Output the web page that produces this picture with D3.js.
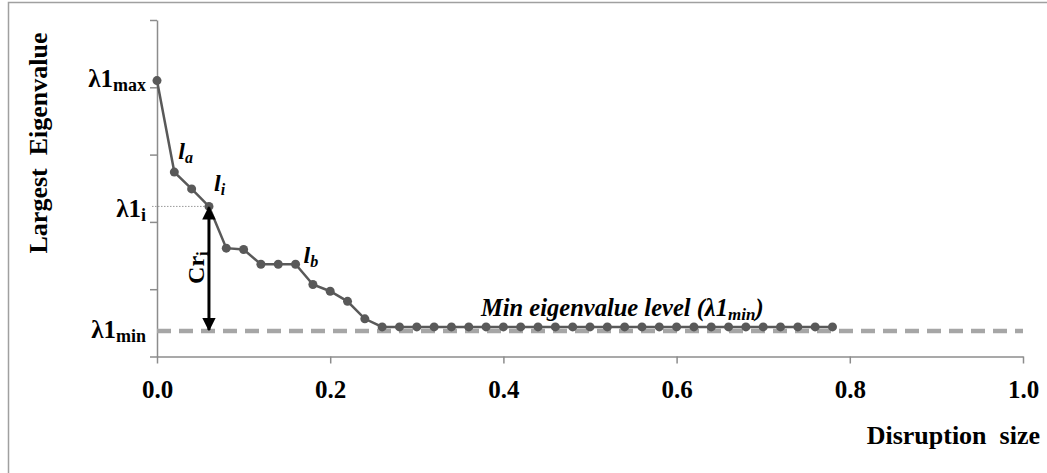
<!DOCTYPE html>
<html><head><meta charset="utf-8">
<script src="https://cdn.jsdelivr.net/npm/d3@7"></script>
<style>body{margin:0;background:#fff;}svg{display:block;}</style>
</head><body>
<svg id="chart" width="1047" height="473"></svg>
<script>
const disruption = [0.00,0.02,0.04,0.06,0.08,0.10,0.12,0.14,0.16,0.18,0.20,0.22,0.24,0.26,0.28,0.30,0.32,0.34,0.36,0.38,0.40,0.42,0.44,0.46,0.48,0.50,0.52,0.54,0.56,0.58,0.60,0.62,0.64,0.66,0.68,0.70,0.72,0.74,0.76,0.78];
const eigenvalue = [4.10,2.74,2.49,2.23,1.61,1.59,1.37,1.37,1.37,1.07,0.97,0.82,0.56,0.44,0.44,0.44,0.44,0.44,0.44,0.44,0.44,0.44,0.44,0.44,0.44,0.44,0.44,0.44,0.44,0.44,0.44,0.44,0.44,0.44,0.44,0.44,0.44,0.44,0.44,0.44];
const minLevel = 0.38;
const xTicks = [0,0.2,0.4,0.6,0.8,1.0];
const yTicks = [0,1,2,3,4,5];
const iIndex = 3;

const svg = d3.select("#chart");
const FONT = "'Liberation Serif','Times New Roman',serif";
const x = d3.scaleLinear().domain([0,1]).range([157,1023]);
const y = d3.scaleLinear().domain([0,5]).range([356.5,20]);

// outer border
svg.append("rect").attr("x",8.5).attr("y",2.5).attr("width",1050).attr("height",480)
  .attr("fill","none").attr("stroke","#a0a0a0").attr("stroke-width",1.5);

// axes
const ax = svg.append("g").attr("transform",`translate(0,${y(0)})`)
  .call(d3.axisBottom(x).tickValues(xTicks).tickFormat(d3.format(".1f")).tickSize(7).tickSizeOuter(0));
ax.select(".domain").attr("stroke","#8c8c8c").attr("stroke-width",1.5);
ax.selectAll(".tick line").attr("stroke","#8c8c8c").attr("stroke-width",1.5);
ax.selectAll(".tick text").attr("font-family",FONT).attr("font-weight","bold").attr("font-size",25)
  .attr("fill","#000").attr("y",0).attr("dy",null).attr("transform","translate(0,41)");

const ay = svg.append("g").attr("transform",`translate(${x(0)},0)`)
  .call(d3.axisLeft(y).tickValues(yTicks).tickFormat("").tickSize(7).tickSizeOuter(0));
ay.select(".domain").attr("stroke","#8c8c8c").attr("stroke-width",1.5);
ay.selectAll(".tick line").attr("stroke","#8c8c8c").attr("stroke-width",1.5);

// min level dashed line
svg.append("line").attr("x1",x(0)).attr("x2",x(1)).attr("y1",y(minLevel)).attr("y2",y(minLevel))
  .attr("stroke","#a6a6a6").attr("stroke-width",4.5).attr("stroke-dasharray","14,8");

// dotted guide to lambda1_i
svg.append("line").attr("x1",x(0)-5).attr("x2",x(disruption[iIndex])).attr("y1",y(eigenvalue[iIndex])).attr("y2",y(eigenvalue[iIndex]))
  .attr("stroke","#9a9a9a").attr("stroke-width",1).attr("stroke-dasharray","1.5,1.5");

// series line
const pts = disruption.map((d,i)=>[d,eigenvalue[i]]);
svg.append("path").datum(pts)
  .attr("d",d3.line().x(d=>x(d[0])).y(d=>y(d[1])))
  .attr("fill","none").attr("stroke","#595959").attr("stroke-width",2.5);
svg.selectAll("circle.pt").data(pts).join("circle").attr("class","pt")
  .attr("cx",d=>x(d[0])).attr("cy",d=>y(d[1])).attr("r",4.5).attr("fill","#595959");

// double arrow Cr_i
const defs = svg.append("defs");
["s","e"].forEach(k=>{
  defs.append("marker").attr("id","ah"+k).attr("viewBox","0 0 10 10").attr("refX",9).attr("refY",5)
    .attr("markerWidth",4.5).attr("markerHeight",4.5).attr("orient",k==="s"?"auto-start-reverse":"auto")
    .attr("markerUnits","strokeWidth")
    .append("path").attr("d","M0,0 L10,5 L0,10 Z").attr("fill","#000");
});
const ax0 = x(disruption[iIndex]);
svg.append("line").attr("x1",ax0).attr("x2",ax0).attr("y1",y(eigenvalue[iIndex])+1).attr("y2",y(minLevel)-1)
  .attr("stroke","#000").attr("stroke-width",3)
  .attr("marker-start","url(#ahs)").attr("marker-end","url(#ahe)");

const crT = svg.append("text").attr("transform",`translate(${ax0-5},${y(minLevel)-47}) rotate(-90)`)
  .attr("font-family",FONT).attr("font-weight","bold").attr("font-size",24).attr("fill","#000");
crT.append("tspan").text("Cr");
crT.append("tspan").attr("font-size",17).attr("dy",4).text("i");

// lambda labels on y axis
function lam(val, sub, dyPx){
  const t = svg.append("text").attr("x",x(0)-11).attr("y",y(val)+dyPx).attr("text-anchor","end")
    .attr("font-family",FONT).attr("font-weight","bold").attr("font-size",25).attr("fill","#000");
  t.append("tspan").text("λ1");
  t.append("tspan").attr("font-size",18).attr("dy",4).text(sub);
}
lam(eigenvalue[0],"max",6);
lam(eigenvalue[iIndex],"i",11);
lam(minLevel,"min",7);

// italic segment labels
function seg(px,py,main,sub){
  const t = svg.append("text").attr("x",px).attr("y",py)
    .attr("font-family",FONT).attr("font-style","italic").attr("font-weight","bold").attr("font-size",24).attr("fill","#000");
  t.append("tspan").text(main);
  t.append("tspan").attr("font-size",16).attr("dy",4).text(sub);
}
seg(x(0.02)+4, y(eigenvalue[1])-13, "l","a");
seg(x(0.06)+5, y(eigenvalue[3])-15, "l","i");
seg(x(0.16)+8, y(eigenvalue[8])-1, "l","b");

// min level text
const mt = svg.append("text").attr("x",481).attr("y",y(eigenvalue[20])-11)
  .attr("font-family",FONT).attr("font-style","italic").attr("font-weight","bold").attr("font-size",24.5).attr("fill","#000");
mt.append("tspan").text("Min eigenvalue level (λ1");
mt.append("tspan").attr("font-size",17).attr("dy",4).text("min");
mt.append("tspan").attr("dy",-4).text(")");

// axis titles
svg.append("text").attr("x",1040).attr("y",444).attr("text-anchor","end")
  .attr("font-family",FONT).attr("font-weight","bold").attr("font-size",26).attr("fill","#000")
  .attr("xml:space","preserve").text("Disruption  size");
svg.append("text").attr("transform","translate(47,143) rotate(-90)").attr("text-anchor","middle")
  .attr("font-family",FONT).attr("font-weight","bold").attr("font-size",26).attr("fill","#000")
  .attr("xml:space","preserve").text("Largest  Eigenvalue");
</script>
</body></html>
